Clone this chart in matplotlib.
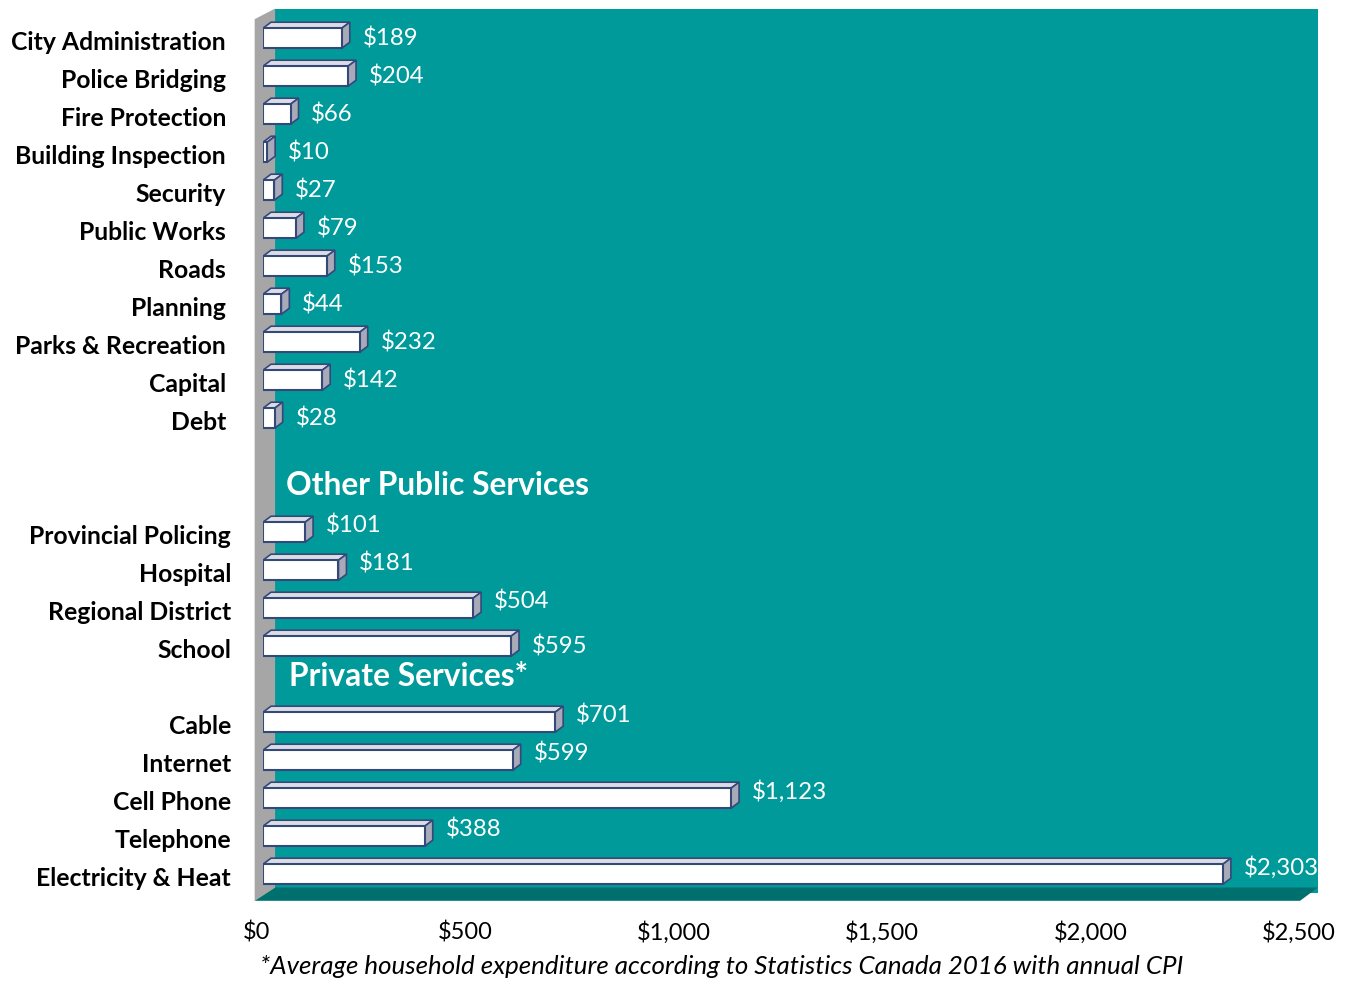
import matplotlib.pyplot as plt
from matplotlib.patches import Rectangle, Polygon

# data, top to bottom as in the chart
municipal = ["City Administration", "Police Bridging", "Fire Protection",
             "Building Inspection", "Security", "Public Works", "Roads",
             "Planning", "Parks & Recreation", "Capital", "Debt"]
municipal_vals = [189, 204, 66, 10, 27, 79, 153, 44, 232, 142, 28]

other_public = ["Provincial Policing", "Hospital", "Regional District", "School"]
other_public_vals = [101, 181, 504, 595]

private = ["Cable", "Internet", "Cell Phone", "Telephone", "Electricity & Heat"]
private_vals = [701, 599, 1123, 388, 2303]

xticks = [0, 500, 1000, 1500, 2000, 2500]
xticklabels = ["$0", "$500", "$1,000", "$1,500", "$2,000", "$2,500"]

TEAL = "#009a9a"
FLOOR = "#00706f"
SIDE = "#a6a6a6"
EDGE = "#34487a"

plt.rcParams['font.family'] = ["Lato", "DejaVu Sans"]

fig = plt.figure(figsize=(13.53, 9.81), dpi=100)
W, H = 1353, 981
# $0 at x=263px, $2,500 at x=1305px ; slot 0 at y=878px, 38px per slot
ax = fig.add_axes([263 / W, 1 - 900.8 / H, 1042 / W, (900.8 - 7.8) / H])
ax.set_xlim(0, 2500)
ax.set_ylim(-0.6, 22.9)

# slot positions (slot 0 = bottom row)
n_slots = 23
rows = []
slot = n_slots - 1
for name, v in zip(municipal, municipal_vals):
    rows.append((name, v, slot, 226))
    slot -= 1
slot -= 2
for name, v in zip(other_public, other_public_vals):
    rows.append((name, v, slot, 231))
    slot -= 1
slot -= 1
for name, v in zip(private, private_vals):
    rows.append((name, v, slot, 231))
    slot -= 1

px_x = 2500 / 1042.0   # dollars per pixel
px_y = 1 / 38.0        # slots per pixel

# back wall, side wall, floor
ax.add_patch(Rectangle((29, -0.4), 2531 - 29, 22.88 - (-0.4), facecolor=TEAL,
                       edgecolor="none", clip_on=False, zorder=0))
ax.add_patch(Polygon([(-20, -0.6), (-20, 22.6), (29, 22.88), (29, -0.25)],
                     closed=True, facecolor=SIDE, edgecolor="none",
                     clip_on=False, zorder=1))
ax.add_patch(Polygon([(-20, -0.6), (29, -0.25), (2531, -0.25), (2488, -0.6)],
                     closed=True, facecolor=FLOOR, edgecolor="none",
                     clip_on=False, zorder=1))

# 3d-looking bars
h = 20 * px_y
dx = 8 * px_x
dy = 6 * px_y
for name, v, s, lx in rows:
    yc = s + 0.1
    y0 = yc - h / 2
    top = Polygon([(0, y0 + h), (dx, y0 + h + dy), (v + dx, y0 + h + dy), (v, y0 + h)],
                  closed=True, facecolor="#dcdce4", edgecolor=EDGE, lw=1.2, zorder=3)
    side = Polygon([(v, y0), (v, y0 + h), (v + dx, y0 + h + dy), (v + dx, y0 + dy)],
                   closed=True, facecolor="#a9aab8", edgecolor=EDGE, lw=1.2, zorder=3)
    front = Rectangle((0, y0), v, h, facecolor="white", edgecolor=EDGE, lw=1.5, zorder=4)
    ax.add_patch(top)
    ax.add_patch(side)
    ax.add_patch(front)

    ty = yc if s > 10 else s + 0.28
    if name == "School":
        ty = s + 0.1
    ax.annotate("${:,}".format(v), (v, ty), xytext=(15, 0), textcoords="offset points",
                ha="left", va="center", color="white", fontsize=17.3, zorder=5,
                annotation_clip=False)
    fig.text(lx / W, 1 - (878 - s * 38) / H, name, ha="right", va="center",
             fontsize=17.8, fontweight="bold", color="black")

ax.text(23 * px_x, 10.34, "Other Public Services", ha="left", va="center",
        color="white", fontsize=22.9, fontweight="bold", zorder=5)
ax.text(26 * px_x, 5.29, "Private Services*", ha="left", va="center",
        color="white", fontsize=22.9, fontweight="bold", zorder=5)

# tick labels sit on the front edge of the floor, a little left of the bars' plane
ax.set_xticks(xticks)
ax.set_xticklabels([])
ax.tick_params(axis="x", length=0)
for xv, lab in zip(xticks, xticklabels):
    ax.annotate(lab, (xv, 0), xycoords=ax.get_xaxis_transform(),
                xytext=(-4.5, -15), textcoords="offset points",
                ha="center", va="top", fontsize=17, color="black",
                annotation_clip=False)
ax.set_yticks([])
for sp in ax.spines.values():
    sp.set_visible(False)
ax.patch.set_visible(False)

fig.text(722 / W, 1 - 967 / H,
         "*Average household expenditure according to Statistics Canada 2016 with annual CPI",
         ha="center", va="center", fontsize=18.6, style="italic", color="black")

fig.savefig("out.png", dpi=100)
